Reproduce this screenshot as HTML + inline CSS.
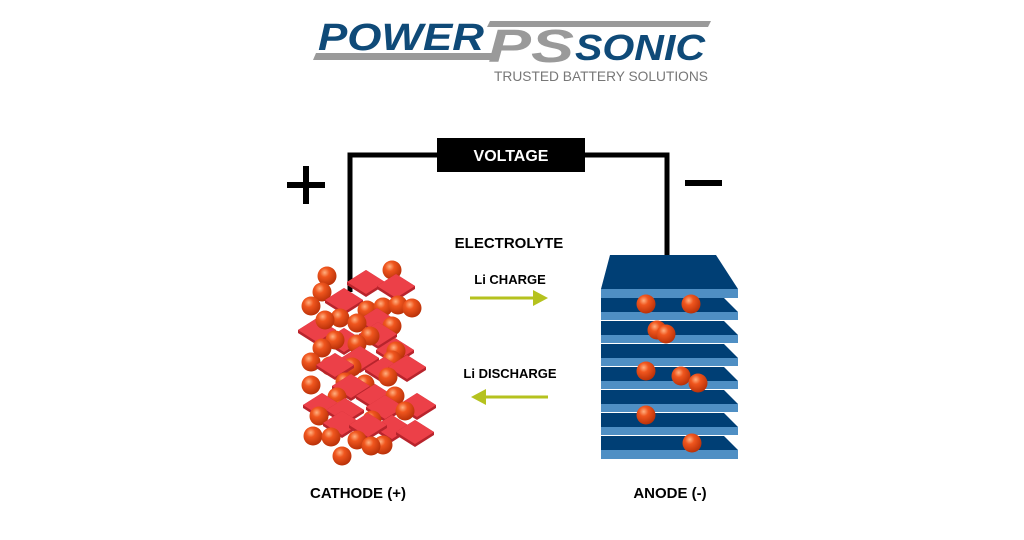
<!DOCTYPE html>
<html><head><meta charset="utf-8"><style>
html,body{margin:0;padding:0;background:#fff}
body{width:1024px;height:535px;overflow:hidden;position:relative;font-family:"Liberation Sans",sans-serif}
</style></head><body>
<svg width="1024" height="535" viewBox="0 0 1024 535" xmlns="http://www.w3.org/2000/svg">
<defs>
<radialGradient id="ball" cx="0.38" cy="0.32" r="0.7">
<stop offset="0" stop-color="#ffb080"/><stop offset="0.35" stop-color="#f0561e"/><stop offset="1" stop-color="#b83008"/>
</radialGradient>
<g id="b"><circle r="9.5" fill="url(#ball)"/></g>
<g id="d"><polygon points="-19,0 0,-12 19,0 19,3 0,15 -19,3" fill="#b8242c"/><polygon points="-19,0 0,-12 19,0 0,12" fill="#ec4048"/></g>
</defs>
<!-- logo -->
<polygon points="313,60 490,60 493,53 316,53" fill="#9a9a9a"/>
<polygon points="487,27 708,27 711,21 490,21" fill="#9a9a9a"/>
<text x="318" y="50" font-size="38" font-style="italic" font-weight="bold" fill="#0f4a78" textLength="166" lengthAdjust="spacingAndGlyphs">POWER</text>
<text x="488" y="62" font-size="46" font-style="italic" font-weight="bold" fill="#9a9a9a" textLength="86" lengthAdjust="spacingAndGlyphs">PS</text>
<text x="575" y="60" font-size="36" font-style="italic" font-weight="bold" fill="#0f4a78" textLength="130" lengthAdjust="spacingAndGlyphs">SONIC</text>
<text x="494" y="81" font-size="14" fill="#777" textLength="214" lengthAdjust="spacingAndGlyphs">TRUSTED BATTERY SOLUTIONS</text>
<!-- wires -->
<polyline points="350,292 350,155 667,155 667,258" fill="none" stroke="#000" stroke-width="5"/>
<rect x="437" y="138" width="148" height="34" fill="#000"/>
<text x="511" y="161" font-size="16" font-weight="bold" fill="#fff" text-anchor="middle">VOLTAGE</text>
<rect x="287" y="182" width="38" height="6" fill="#000"/>
<rect x="303" y="166" width="6" height="38" fill="#000"/>
<rect x="685" y="180" width="37" height="6" fill="#000"/>
<text x="509" y="248" font-size="15" font-weight="bold" text-anchor="middle">ELECTROLYTE</text>
<text x="510" y="284" font-size="13" font-weight="bold" text-anchor="middle">Li CHARGE</text>
<line x1="470" y1="298" x2="536" y2="298" stroke="#b5c21e" stroke-width="3"/>
<polygon points="548,298 533,290 533,306" fill="#b5c21e"/>
<text x="510" y="378" font-size="13" font-weight="bold" text-anchor="middle">Li DISCHARGE</text>
<line x1="484" y1="397" x2="548" y2="397" stroke="#b5c21e" stroke-width="3"/>
<polygon points="471,397 486,389 486,405" fill="#b5c21e"/>
<text x="358" y="498" font-size="15" font-weight="bold" text-anchor="middle">CATHODE (+)</text>
<text x="670" y="498" font-size="15" font-weight="bold" text-anchor="middle">ANODE (-)</text>
<!-- anode -->
<polygon points="610,255 716,255 738,289 601,289" fill="#003f75"/>
<rect x="601" y="289" width="137" height="9" fill="#4f8fc4"/>
<g fill="#003f75">
<polygon points="601,298 724,298 738,312 601,312"/>
<polygon points="601,321 724,321 738,335 601,335"/>
<polygon points="601,344 724,344 738,358 601,358"/>
<polygon points="601,367 724,367 738,381 601,381"/>
<polygon points="601,390 724,390 738,404 601,404"/>
<polygon points="601,413 724,413 738,427 601,427"/>
<polygon points="601,436 724,436 738,450 601,450"/>
</g>
<g fill="#4f8fc4">
<rect x="601" y="312" width="137" height="8"/><rect x="601" y="335" width="137" height="8"/>
<rect x="601" y="358" width="137" height="8"/><rect x="601" y="381" width="137" height="8"/>
<rect x="601" y="404" width="137" height="8"/><rect x="601" y="427" width="137" height="8"/>
<rect x="601" y="450" width="137" height="9"/>
</g>
<use href="#b" x="646" y="304"/><use href="#b" x="691" y="304"/><use href="#b" x="657" y="330"/>
<use href="#b" x="666" y="334"/><use href="#b" x="646" y="371"/><use href="#b" x="681" y="376"/>
<use href="#b" x="698" y="383"/><use href="#b" x="646" y="415"/><use href="#b" x="692" y="443"/>
<!-- cathode -->
<g>
<use href="#b" x="327" y="276"/><use href="#b" x="392" y="270"/>
<use href="#d" x="366" y="282"/><use href="#d" x="396" y="286"/>
<use href="#b" x="322" y="292"/><use href="#b" x="311" y="306"/>
<use href="#d" x="344" y="300"/>
<use href="#b" x="367" y="310"/><use href="#b" x="383" y="307"/><use href="#b" x="398" y="305"/><use href="#b" x="412" y="308"/>
<use href="#d" x="377" y="320"/><use href="#d" x="317" y="330"/>
<use href="#b" x="340" y="318"/><use href="#b" x="357" y="323"/><use href="#b" x="392" y="326"/><use href="#b" x="325" y="320"/>
<use href="#d" x="344" y="340"/><use href="#d" x="378" y="334"/>
<use href="#b" x="335" y="340"/><use href="#b" x="370" y="336"/><use href="#b" x="357" y="344"/>
<use href="#d" x="395" y="350"/><use href="#d" x="360" y="358"/>
<use href="#b" x="322" y="348"/><use href="#b" x="396" y="351"/>
<use href="#b" x="311" y="362"/><use href="#b" x="330" y="366"/><use href="#b" x="352" y="367"/><use href="#b" x="392" y="360"/>
<use href="#d" x="335" y="365"/><use href="#d" x="384" y="369"/><use href="#d" x="407" y="367"/>
<use href="#b" x="311" y="385"/><use href="#b" x="345" y="382"/><use href="#b" x="365" y="384"/><use href="#b" x="388" y="377"/>
<use href="#d" x="351" y="386"/><use href="#d" x="375" y="396"/>
<use href="#b" x="337" y="397"/><use href="#b" x="395" y="396"/><use href="#b" x="341" y="410"/>
<use href="#d" x="322" y="405"/><use href="#d" x="385" y="407"/><use href="#d" x="417" y="405"/><use href="#d" x="345" y="410"/>
<use href="#b" x="372" y="420"/><use href="#b" x="319" y="416"/><use href="#b" x="405" y="411"/>
<use href="#d" x="342" y="423"/><use href="#d" x="392" y="427"/><use href="#d" x="368" y="425"/><use href="#d" x="415" y="432"/>
<use href="#b" x="313" y="436"/><use href="#b" x="331" y="437"/><use href="#b" x="357" y="440"/><use href="#b" x="383" y="445"/><use href="#b" x="371" y="446"/>
<use href="#b" x="342" y="456"/>
</g>
</svg>
</body></html>
